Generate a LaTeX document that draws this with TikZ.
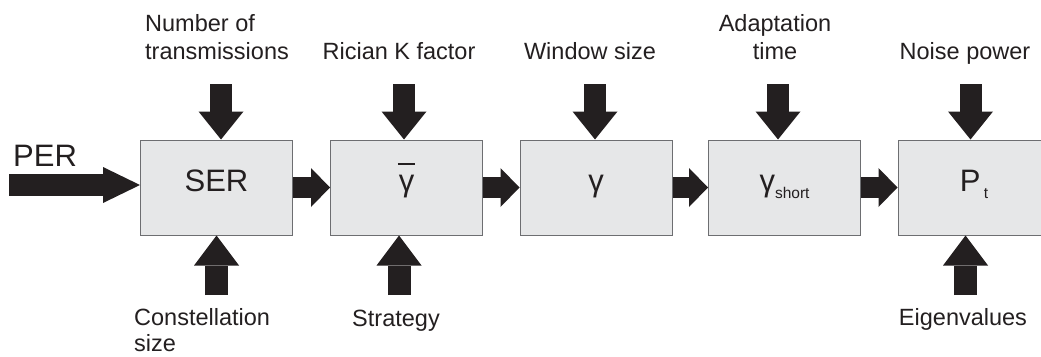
\documentclass[tikz,border=0pt]{standalone}
\usepackage{fontspec}
\setmainfont{Liberation Sans}
\usetikzlibrary{arrows.meta}
\definecolor{ink}{HTML}{231F20}
\definecolor{boxfill}{HTML}{E6E7E8}
\definecolor{boxline}{HTML}{6D6E71}
\begin{document}
\begin{tikzpicture}[x=1pt,y=-1pt,
  block/.style={draw=boxline, line width=1pt, fill=boxfill, minimum width=152pt, minimum height=95pt,
    inner sep=0pt, text height=21pt, text depth=14pt, font=\fontsize{31}{36}\selectfont, text=ink},
  lbl/.style={inner sep=0pt, font=\fontsize{23.5}{28}\selectfont, text=ink},
  harrow/.style={draw=ink, line width=21pt, -{Triangle[width=39pt,length=19pt,line width=0pt]}},
  darrow/.style={draw=ink, line width=22pt, -{Triangle[width=45pt,length=28pt,line width=0pt]}},
  uarrow/.style={draw=ink, line width=23pt, -{Triangle[width=45pt,length=30pt,line width=0pt]}},
  parrow/.style={draw=ink, line width=22pt, -{Triangle[width=36pt,length=37pt,line width=0pt]}}
]
\useasboundingbox (0,0) rectangle (1041,356);
\clip (0,0) rectangle (1041,356);

% blocks
\node[block] (ser)  at (216.5,187.5) {SER};
\node[block] (gbar) at (406.5,187.5) {\rlap{\hspace{-1pt}\smash{\rule[25.7pt]{17pt}{2.6pt}}}γ};
\node[block] (gam)  at (596,187.5) {γ};
\node[block] (gsh)  at (784.5,187.5) {γ\raisebox{-7pt}{\fontsize{15.5}{16}\selectfont short}};
\node[block] (pt)   at (974,187.5) {P\hspace{3.5pt}\raisebox{-7pt}{\fontsize{15.5}{16}\selectfont t}};

% chain arrows
\draw[harrow] (ser.east) -- (gbar.west);
\draw[harrow] (gbar.east) -- (gam.west);
\draw[harrow] (gam.east) -- (gsh.west);
\draw[harrow] (gsh.east) -- (pt.west);

% PER input
\coordinate (pin) at (9,185);
\draw[parrow] (pin) -- (pin -| ser.west);
\node[lbl, font=\fontsize{31}{36}\selectfont, anchor=base west] (per) at (13,166) {PER};

% top inputs
\coordinate (t1) at (221,84);
\coordinate (t2) at (404,84);
\coordinate (t3) at (595,84);
\coordinate (t4) at (778,84);
\coordinate (t5) at (970.5,84);
\draw[darrow] (t1) -- (t1 |- ser.north);
\draw[darrow] (t2) -- (t2 |- gbar.north);
\draw[darrow] (t3) -- (t3 |- gam.north);
\draw[darrow] (t4) -- (t4 |- gsh.north);
\draw[darrow] (t5) -- (t5 |- pt.north);

% bottom inputs
\coordinate (b1) at (216.5,295);
\coordinate (b2) at (399,295);
\coordinate (b5) at (965.5,295);
\draw[uarrow] (b1) -- (b1 |- ser.south);
\draw[uarrow] (b2) -- (b2 |- gbar.south);
\draw[uarrow] (b5) -- (b5 |- pt.south);

% top labels
\node[lbl, anchor=north west, align=left] (l1) at (145,14) {Number of\\transmissions};
\node[lbl, anchor=base] (l2) at (399,59) {Rician K factor};
\node[lbl, anchor=base] (l3) at (590,59) {Window size};
\node[lbl, anchor=north, align=center] (l4) at (775,14) {Adaptation\\time};
\node[lbl, anchor=base] (l5) at (965,59) {Noise power};

% bottom labels
\node[lbl, font=\fontsize{23.5}{26.5}\selectfont, anchor=north west, align=left] (l6) at (134,308) {Constellation\\size};
\node[lbl, anchor=base] (l7) at (396,326) {Strategy};
\node[lbl, anchor=base] (l8) at (963,325) {Eigenvalues};
\end{tikzpicture}
\end{document}
